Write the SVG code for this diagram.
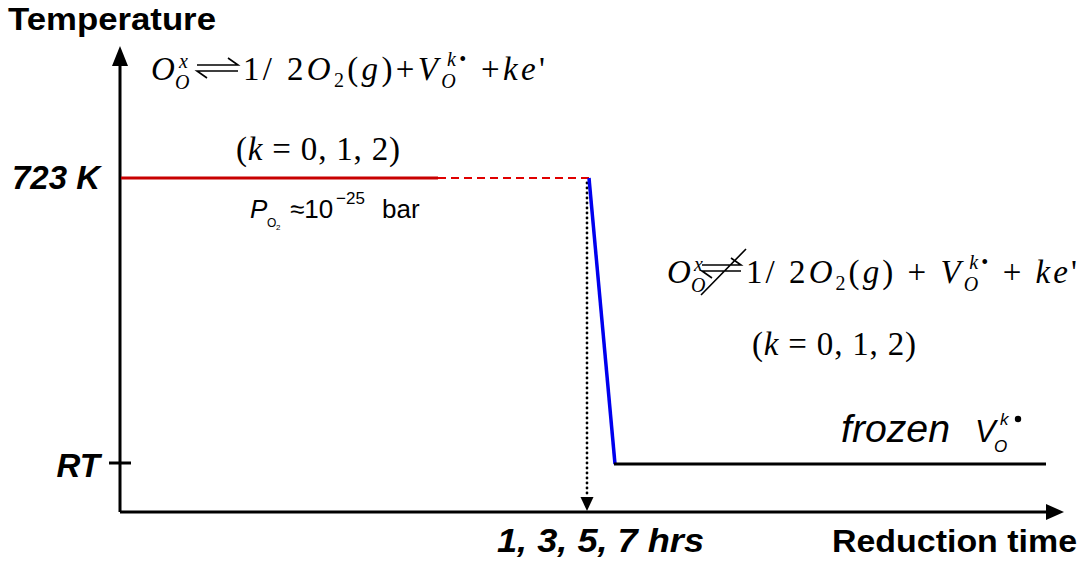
<svg xmlns="http://www.w3.org/2000/svg" width="1084" height="564" viewBox="0 0 1084 564">
<style>
.ax{stroke:#000;stroke-width:3;fill:none}
.lbl{font-family:"Liberation Sans",Arial,sans-serif;font-weight:bold;fill:#000}
.bi{font-family:"Liberation Sans",Arial,sans-serif;font-weight:bold;font-style:italic;fill:#000}
.m{font-family:"Liberation Serif","Times New Roman",serif;fill:#000;font-size:33px}
.mi{font-style:italic}
.ms{font-size:20px}
.ar{font-family:"Liberation Sans",Arial,sans-serif;fill:#000}
.hp{stroke:#000;stroke-width:1.6;fill:none}
</style>
<g id="connectors">
<path class="ax" d="M120,512 V62"/>
<path d="M120,46 L112,66 L128,66 Z" fill="#000"/>
<path class="ax" d="M120,512 H1048"/>
<path d="M1064,512 L1046,504 L1046,520 Z" fill="#000"/>
<path class="ax" d="M109,463 H131"/>
<path d="M121,178 H438" stroke="#c80000" stroke-width="3" fill="none"/>
<path d="M438,178 H589" stroke="#e00000" stroke-width="1.8" stroke-dasharray="8,5" fill="none"/>
<path d="M587,183 V497" stroke="#000" stroke-width="2.8" stroke-dasharray="0,5" stroke-linecap="round" fill="none"/>
<path d="M580.5,497 L593.5,497 L587,511 Z" fill="#000"/>
<path d="M589,178 L615,464" stroke="#0000ee" stroke-width="3.5" fill="none"/>
<path d="M614,464 H1046" stroke="#000" stroke-width="3" fill="none"/>
</g>
<g id="axis-labels">
<text class="lbl" x="8" y="30" font-size="31" textLength="208" lengthAdjust="spacingAndGlyphs">Temperature</text>
<text class="lbl" x="832" y="552" font-size="32" textLength="245" lengthAdjust="spacingAndGlyphs">Reduction time</text>
<text class="bi" x="100" y="189" font-size="33" text-anchor="end">723 K</text>
<text class="bi" x="100" y="477" font-size="33" text-anchor="end">RT</text>
<text class="bi" x="497" y="552" font-size="34" textLength="207" lengthAdjust="spacingAndGlyphs">1, 3, 5, 7 hrs</text>
</g>
<g id="eq-equilibrium">
<text class="m mi" x="151" y="80">O</text>
<text class="m mi ms" x="175" y="89">O</text>
<text class="m mi ms" x="179" y="68">x</text>
<path class="hp" d="M197,65 H238 L228,58 M238,71 H197 L207,78"/>
<text class="m" x="243" y="80" textLength="302" lengthAdjust="spacing">1/ 2<tspan class="mi">O</tspan><tspan class="ms" dy="7">2</tspan><tspan dy="-7">(</tspan><tspan class="mi">g</tspan>)+<tspan class="mi">V</tspan><tspan class="ms mi" dy="8">O</tspan><tspan class="ms mi" dy="-22" dx="-12">k</tspan><tspan class="ms" dy="0">•</tspan><tspan dy="14"> +</tspan><tspan class="mi">ke</tspan>'</text>
<text class="m" x="236" y="160" font-size="32" textLength="164" lengthAdjust="spacing">(<tspan class="mi">k</tspan> = 0, 1, 2)</text>
</g>
<g id="pressure">
<text class="ar" x="250" y="218" font-size="26" font-style="italic">P</text>
<text class="ar" x="267" y="227" font-size="12">O</text>
<text class="ar" x="276" y="230" font-size="8">2</text>
<text class="ar" x="290" y="218" font-size="26">≈10</text>
<text class="ar" x="336" y="204" font-size="17">−25</text>
<text class="ar" x="382" y="218" font-size="26">bar</text>
</g>
<g id="eq-frozen">
<text class="m mi" x="667" y="283">O</text>
<text class="m mi ms" x="691" y="292">O</text>
<text class="m mi ms" x="694" y="271">x</text>
<path class="hp" d="M702,265 H741 L731,258 M741,271 H702 L712,278 M701,295 L746,249"/>
<text class="m" x="746" y="283" textLength="331" lengthAdjust="spacing">1/ 2<tspan class="mi">O</tspan><tspan class="ms" dy="7">2</tspan><tspan dy="-7">(</tspan><tspan class="mi">g</tspan>) + <tspan class="mi">V</tspan><tspan class="ms mi" dy="8">O</tspan><tspan class="ms mi" dy="-22" dx="-12">k</tspan><tspan class="ms" dy="0">•</tspan><tspan dy="14"> + </tspan><tspan class="mi">ke</tspan>'</text>
<text class="m" x="752" y="355" font-size="32" textLength="164" lengthAdjust="spacing">(<tspan class="mi">k</tspan> = 0, 1, 2)</text>
</g>
<g id="frozen-label">
<text class="ar" x="841" y="442" font-size="38" font-style="italic" textLength="109" lengthAdjust="spacingAndGlyphs">frozen</text>
<text class="ar" x="975" y="442" font-size="31" font-style="italic">V</text>
<text class="ar" x="994" y="452" font-size="17" font-style="italic">O</text>
<text class="ar" x="1000" y="425" font-size="17" font-style="italic">k</text>
<circle cx="1018" cy="419" r="3.2" fill="#000"/>
</g>
</svg>
